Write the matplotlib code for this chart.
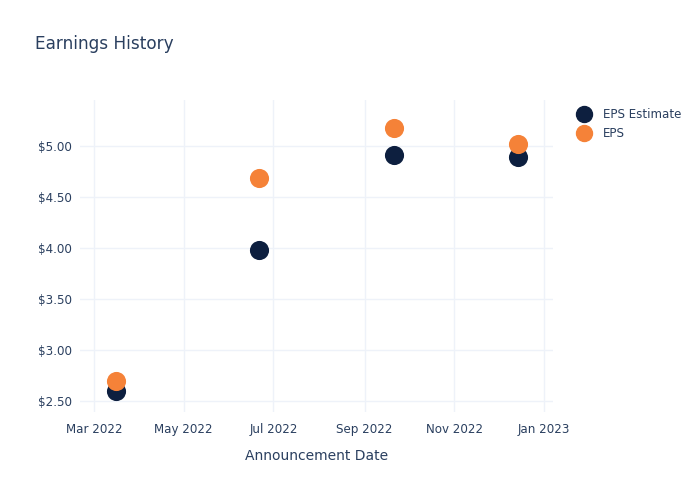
import matplotlib
matplotlib.use("Agg")
import matplotlib.pyplot as plt
import matplotlib.dates as mdates
from matplotlib.lines import Line2D
from datetime import datetime

# data
dates = ["2022-03-16", "2022-06-21", "2022-09-21", "2022-12-14"]
eps_estimate = [2.60, 3.98, 4.91, 4.89]
eps_actual = [2.70, 4.69, 5.18, 5.02]

x = [datetime.fromisoformat(d) for d in dates]

navy = "#0d1f3f"
orange = "#f58238"
text_col = "#2a3f5f"
grid_col = "#eef2f9"

fig = plt.figure(figsize=(7, 5), dpi=100)
ax = fig.add_axes([80 / 700, 88 / 500, 473 / 700, 312 / 500])

ax.scatter(x, eps_estimate, s=190, color=navy, zorder=3, linewidths=0)
ax.scatter(x, eps_actual, s=190, color=orange, zorder=4, linewidths=0)

ax.set_xlim(datetime(2022, 2, 19, 12), datetime(2023, 1, 7))
ax.set_ylim(2.392, 5.45)

ax.xaxis.set_major_locator(mdates.MonthLocator(bymonth=[1, 3, 5, 7, 9, 11]))
ax.xaxis.set_major_formatter(mdates.DateFormatter("%b %Y"))
ax.set_yticks([2.5, 3.0, 3.5, 4.0, 4.5, 5.0])
ax.set_yticklabels([f"${v:.2f}" for v in [2.5, 3.0, 3.5, 4.0, 4.5, 5.0]])

ax.grid(True, color=grid_col, linewidth=1)
ax.set_axisbelow(True)
for sp in ax.spines.values():
    sp.set_visible(False)
ax.tick_params(length=0, labelsize=8.6, colors=text_col, pad=6)
ax.tick_params(axis="x", pad=8)

ax.set_xlabel("Announcement Date", fontsize=10, color=text_col, labelpad=9)

fig.text(35 / 700, 1 - 44 / 500, "Earnings History", fontsize=12.2,
         color=text_col, va="center", ha="left")

handles = [
    Line2D([], [], marker="o", linestyle="", markersize=11.5, color=navy, label="EPS Estimate"),
    Line2D([], [], marker="o", linestyle="", markersize=11.5, color=orange, label="EPS"),
]
leg = fig.legend(handles=handles, loc="upper left", bbox_to_anchor=(571 / 700, 1 - 103 / 500),
                 frameon=False, fontsize=8.6, labelcolor=text_col, handletextpad=0.9,
                 labelspacing=0.55, borderaxespad=0, handlelength=1.4)

fig.savefig("out.png", dpi=100)
plt.close(fig)
